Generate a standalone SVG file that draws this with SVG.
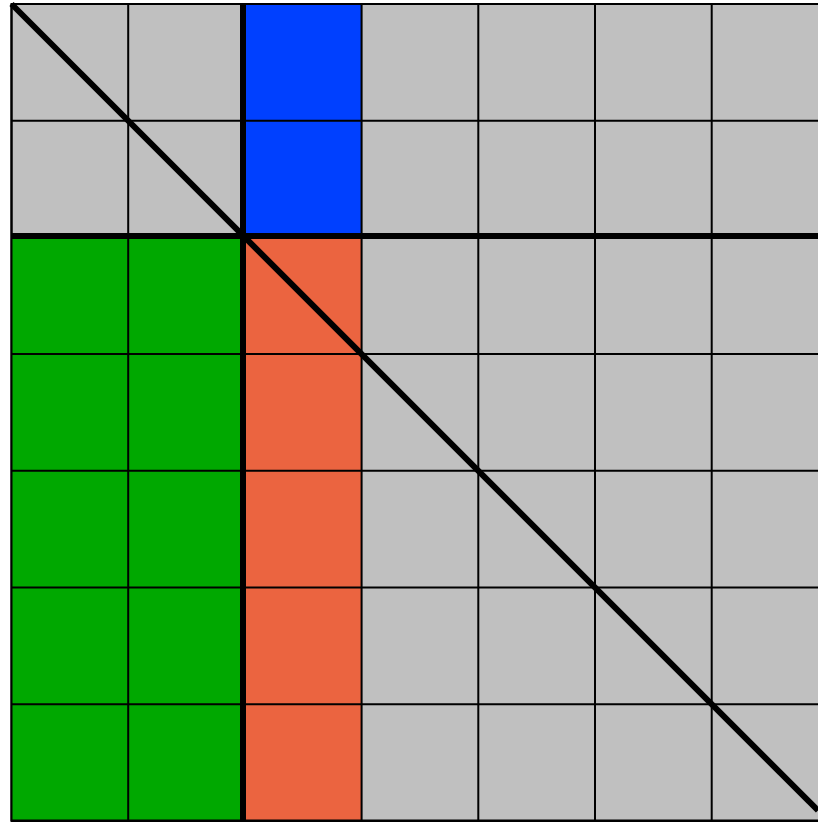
<svg xmlns="http://www.w3.org/2000/svg" width="818" height="822" viewBox="0 0 818 822">
<style>
.c{stroke:#000;stroke-width:2}
.g{fill:#c0c0c0}.b{fill:#0040ff}.gr{fill:#00a800}.o{fill:#eb6440}
.thick{stroke:#000;stroke-width:6;fill:none}
</style>
<rect width="818" height="822" fill="#fff"/>
<g id="grid">
<rect x="11.5" y="4" width="817" height="817" class="g c"/>
<rect x="245" y="4" width="116.7" height="233.4" class="b"/>
<rect x="11.5" y="237.4" width="233.4" height="583.6" class="gr"/>
<rect x="245" y="237.4" width="116.7" height="583.6" class="o"/>
<path d="M128.2 4V821M244.9 4V821M361.6 4V821M478.3 4V821M595 4V821M711.7 4V821M11.5 120.7H818M11.5 237.4H818M11.5 354.1H818M11.5 470.8H818M11.5 587.5H818M11.5 704.2H818M11.5 820.5H818M11.5 4H818M11.5 4V821" stroke="#000" stroke-width="2" fill="none"/>
</g>
<g id="connectors">
<line x1="243" y1="4" x2="243" y2="821" class="thick"/>
<line x1="11.5" y1="236" x2="818" y2="236" class="thick"/>
<line x1="11.5" y1="4" x2="818" y2="810.5" class="thick"/>
</g>
</svg>
